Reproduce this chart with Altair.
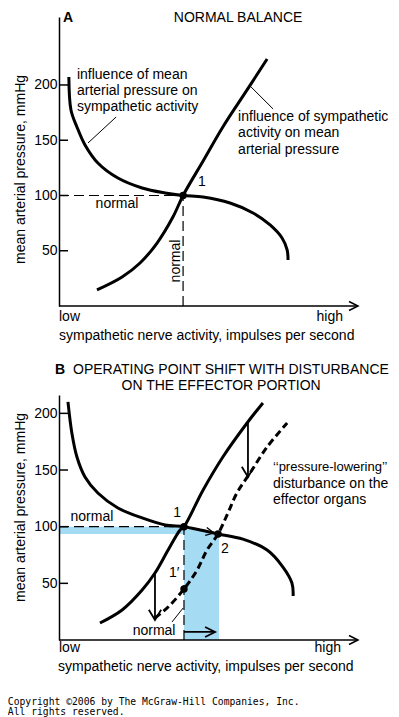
import altair as alt
import pandas as pd

# ---------------- data (x: sympathetic nerve activity, 0 = low ... 100 = high; y: mmHg)
# Panel A
a_baro_x = [3.3, 4.0, 6.0, 8.7, 13.0, 19.7, 27.8, 35.5, 41.5, 48.2, 57.2, 64.9, 70.6, 74.6, 76.3, 76.6]
a_baro_y = [207.2, 177.4, 162.0, 145.7, 129.4, 115.8, 106.8, 102.3, 100.0, 98.6, 93.2, 84.2, 73.3, 61.5, 50.7, 41.6]
a_eff_x = [12.7, 21.1, 27.1, 32.8, 38.1, 41.5, 48.2, 54.8, 62.9, 69.6]
a_eff_y = [14.5, 26.2, 38.9, 57.0, 80.5, 100.0, 131.2, 162.0, 195.5, 223.5]
a_point_x = [41.5]
a_point_y = [100.0]

# Panel B
b_baro_x = [3.0, 4.3, 6.0, 8.7, 13.0, 19.7, 27.8, 35.5, 41.8, 47.2, 53.2, 61.5, 69.6, 74.9, 77.9, 78.3]
b_baro_y = [210.1, 182.7, 161.5, 143.9, 129.7, 116.5, 107.7, 101.5, 100.0, 97.1, 93.6, 89.0, 79.4, 64.4, 50.3, 38.8]
b_eff_x = [13.7, 21.1, 27.8, 32.1, 36.5, 40.5, 41.8, 48.2, 54.8, 62.9, 68.2]
b_eff_y = [15.0, 26.5, 44.1, 59.1, 79.4, 97.1, 100.0, 132.4, 161.5, 191.5, 209.2]
b_dist_x = [32.1, 36.5, 41.8, 46.2, 49.5, 53.2, 56.5, 59.5, 63.9, 69.6, 76.3]
b_dist_y = [19.4, 29.1, 45.0, 61.8, 79.4, 93.6, 112.1, 129.7, 147.4, 170.3, 191.5]
b_point_x = [41.8, 53.2, 41.8]
b_point_y = [100.0, 93.6, 45.0]
b_shade_x = [41.8, 47.2, 53.5]
b_shade_y = [100.0, 97.1, 93.5]
b_strip = dict(x=[0.0], x2=[41.8], y=[93.6], y2=[100.0])

y_ticks = [50, 100, 150, 200]

# annotations (data coordinates of each panel)
a_left_text = ["influence of mean", "arterial pressure on", "sympathetic activity",
               "influence of sympathetic", "activity on mean", "arterial pressure",
               "low", "sympathetic nerve activity, impulses per second"]
a_left_x = [6.0, 6.0, 6.0, 59.9, 59.9, 59.9, 0.0, 0.0]
a_left_y = [209.0, 194.6, 180.1, 171.0, 156.6, 141.2, -10.0, -27.1]
a_center_text = ["NORMAL BALANCE", "1", "normal"]
a_center_x = [59.9, 47.8, 19.4]
a_center_y = [260.5, 112.2, 92.3]
a_right_text = ["high"]
a_right_x = [95.0]
a_right_y = [-10.0]
a_bold_text = ["A"]
a_bold_x = [1.3]
a_bold_y = [260.5]
a_vert_text = ["normal"]
a_vert_x = [39.1]
a_vert_y = [40.7]
a_leader = dict(x=[19.1, 63.9], y=[171.0, 199.1], x2=[9.7, 71.6], y2=[147.5, 178.3])

b_left_text = ["OPERATING POINT SHIFT WITH DISTURBANCE",
               "disturbance on the", "effector organs", "low",
               "sympathetic nerve activity, impulses per second"]
b_left_x = [4.7, 71.6, 71.6, 0.0, -0.3]
b_left_y = [238.3, 138.1, 123.6, -7.1, -23.8]
b_quote_text = ["\u2018\u2018pressure-lowering\u2019\u2019"]
b_quote_x = [71.6]
b_quote_y = [152.7]
b_center_text = ["ON THE EFFECTOR PORTION", "normal", "1", "2", "1\u2032", "normal"]
b_center_x = [54.2, 11.0, 39.5, 55.5, 38.5, 31.8]
b_center_y = [224.2, 108.6, 112.1, 80.3, 59.1, 7.9]
b_right_text = ["high"]
b_right_x = [94.3]
b_right_y = [-7.1]
b_bold_text = ["B"]
b_bold_x = [-1.3]
b_bold_y = [238.3]
b_leader = dict(x=[37.8], y=[15.9], x2=[41.5], y2=[28.2])
b_varrow = dict(x=[63.2, 32.1], y=[191.5, 59.1], y2=[143.9, 17.7])
b_harrow = dict(x=[41.8], x2=[52.2], y=[7.1])
b_chevron = dict(x=[51.8], y=[94.4])
copyright_text = ["Copyright \u00a92006 by The McGraw-Hill Companies, Inc.", "All rights reserved."]
copyright_x = [-17.1, -17.1]
copyright_y = [-54.6, -63.8]

# ---------------- styling
FONT = "Liberation Sans"
BLUE = "#a6dbf4"
X = alt.Scale(domain=[0, 100], range=[0, 299])
YA = alt.Scale(domain=[0, 261.5], range=[298, 9])
YB = alt.Scale(domain=[0, 216.2], range=[632, 387])


def y_axis(title_y):
    return alt.Axis(values=y_ticks, orient="left", ticks=False, tickSize=0, grid=False,
                    domain=True, domainColor="black", domainWidth=1.5, zindex=1,
                    labelFont=FONT, labelFontSize=14, labelColor="black", labelPadding=2,
                    title="mean arterial pressure, mmHg", titleFont=FONT, titleFontSize=14,
                    titleFontWeight="normal", titleColor="black", titleAngle=270,
                    titleX=-39, titleY=title_y, titleBaseline="middle", titleAlign="center")


AXA = y_axis(161)
AXB = y_axis(499)


def xy(ys, ax):
    return dict(x=alt.X("x:Q", scale=X, axis=None), y=alt.Y("y:Q", scale=ys, axis=ax))


def df(**cols):
    return pd.DataFrame(cols)


def curve(xs, ys_, scale, ax, dash=None):
    kw = dict(color="black", strokeWidth=3, interpolate="catmull-rom", strokeCap="butt")
    if dash:
        kw["strokeDash"] = dash
    d = df(x=xs, y=ys_, i=list(range(len(xs))))
    return alt.Chart(d).mark_line(**kw).encode(order=alt.Order("i:Q"), **xy(scale, ax))


def texts(t, xs, ys_, scale, ax, **mk):
    base = dict(font=FONT, fontSize=14, color="black", baseline="middle")
    base.update(mk)
    return alt.Chart(df(x=xs, y=ys_, t=t)).mark_text(**base).encode(text="t:N", **xy(scale, ax))


def rules(d, scale, ax, **mk):
    enc = xy(scale, ax)
    if "x2" in d:
        enc["x2"] = alt.X2("x2:Q")
    if "y2" in d:
        enc["y2"] = alt.Y2("y2:Q")
    return alt.Chart(pd.DataFrame(d)).mark_rule(color="black", **mk).encode(**enc)


def heads(d, scale, ax, shape, size, angle=0, sw=1.8):
    return alt.Chart(pd.DataFrame(d)).mark_point(
        shape=shape, size=size, filled=False, color="black", opacity=1,
        strokeWidth=sw, angle=angle).encode(**xy(scale, ax))


RIGHT = "M-1,-0.5L0,0L-1,0.5"
DOWN = "M-0.6,-1L0,0L0.6,-1"


def frame(scale, ax):
    ticks = alt.Chart(df(y=y_ticks)).mark_rule(color="black", strokeWidth=1.5).encode(
        x=alt.value(0), x2=alt.value(9), y=alt.Y("y:Q", scale=scale, axis=ax))
    xaxis = rules(dict(x=[0.0], x2=[100.0], y=[0.0]), scale, ax, strokeWidth=1.5)
    arrow = heads(dict(x=[100.0], y=[0.0]), scale, ax, RIGHT, 324, sw=1.5)
    return [ticks, xaxis, arrow]


# ---------------- panel A
panel_a = alt.layer(
    *frame(YA, AXA),
    rules(dict(x=[0.0], x2=[41.5], y=[100.0]), YA, AXA, strokeWidth=1.2, strokeDash=[10, 5]),
    rules(dict(x=[41.5], y=[0.0], y2=[100.0]), YA, AXA, strokeWidth=1.2, strokeDash=[10, 5]),
    rules(a_leader, YA, AXA, strokeWidth=1),
    curve(a_baro_x, a_baro_y, YA, AXA),
    curve(a_eff_x, a_eff_y, YA, AXA),
    alt.Chart(df(x=a_point_x, y=a_point_y)).mark_circle(size=55, color="black", opacity=1).encode(**xy(YA, AXA)),
    texts(a_left_text, a_left_x, a_left_y, YA, AXA, align="left"),
    texts(a_center_text, a_center_x, a_center_y, YA, AXA, align="center"),
    texts(a_right_text, a_right_x, a_right_y, YA, AXA, align="right"),
    texts(a_bold_text, a_bold_x, a_bold_y, YA, AXA, align="left", fontWeight="bold"),
    texts(a_vert_text, a_vert_x, a_vert_y, YA, AXA, align="center", angle=270),
)

# ---------------- panel B
panel_b = alt.layer(
    alt.Chart(pd.DataFrame(b_strip)).mark_rect(color=BLUE).encode(
        x2=alt.X2("x2:Q"), y2=alt.Y2("y2:Q"), **xy(YB, AXB)),
    alt.Chart(df(x=b_shade_x, y=b_shade_y)).mark_area(color=BLUE, opacity=1).encode(
        y2=alt.datum(0), **xy(YB, AXB)),
    *frame(YB, AXB),
    rules(dict(x=[0.0], x2=[41.8], y=[100.0]), YB, AXB, strokeWidth=1.2, strokeDash=[10, 5]),
    rules(dict(x=[41.8], y=[0.0], y2=[100.0]), YB, AXB, strokeWidth=1.2, strokeDash=[10, 5]),
    rules(b_leader, YB, AXB, strokeWidth=1),
    curve(b_baro_x, b_baro_y, YB, AXB),
    curve(b_eff_x, b_eff_y, YB, AXB),
    curve(b_dist_x, b_dist_y, YB, AXB, dash=[7, 4]),
    rules(b_varrow, YB, AXB, strokeWidth=1.8),
    heads(dict(x=b_varrow["x"], y=b_varrow["y2"]), YB, AXB, DOWN, 420),
    rules(b_harrow, YB, AXB, strokeWidth=1.8),
    heads(dict(x=b_harrow["x2"], y=b_harrow["y"]), YB, AXB, RIGHT, 400),
    heads(b_chevron, YB, AXB, RIGHT, 260, angle=12, sw=1.3),
    alt.Chart(df(x=b_point_x, y=b_point_y)).mark_circle(size=55, color="black", opacity=1).encode(**xy(YB, AXB)),
    texts(b_left_text, b_left_x, b_left_y, YB, AXB, align="left"),
    texts(b_quote_text, b_quote_x, b_quote_y, YB, AXB, align="left", fontSize=13),
    texts(b_center_text, b_center_x, b_center_y, YB, AXB, align="center"),
    texts(b_right_text, b_right_x, b_right_y, YB, AXB, align="right"),
    texts(b_bold_text, b_bold_x, b_bold_y, YB, AXB, align="left", fontWeight="bold"),
    texts(copyright_text, copyright_x, copyright_y, YB, AXB, align="left",
          font="DejaVu Sans Mono", fontSize=9.7),
)

chart = alt.layer(panel_a, panel_b).resolve_scale(y="independent").resolve_axis(y="independent").properties(
    width=332, height=709, autosize=alt.AutoSizeParams(type="none"),
    padding={"left": 51, "top": 0, "right": 0, "bottom": 0},
).configure_view(strokeWidth=0)

chart.save("out.html", embed_options={"renderer": "svg", "actions": False})
